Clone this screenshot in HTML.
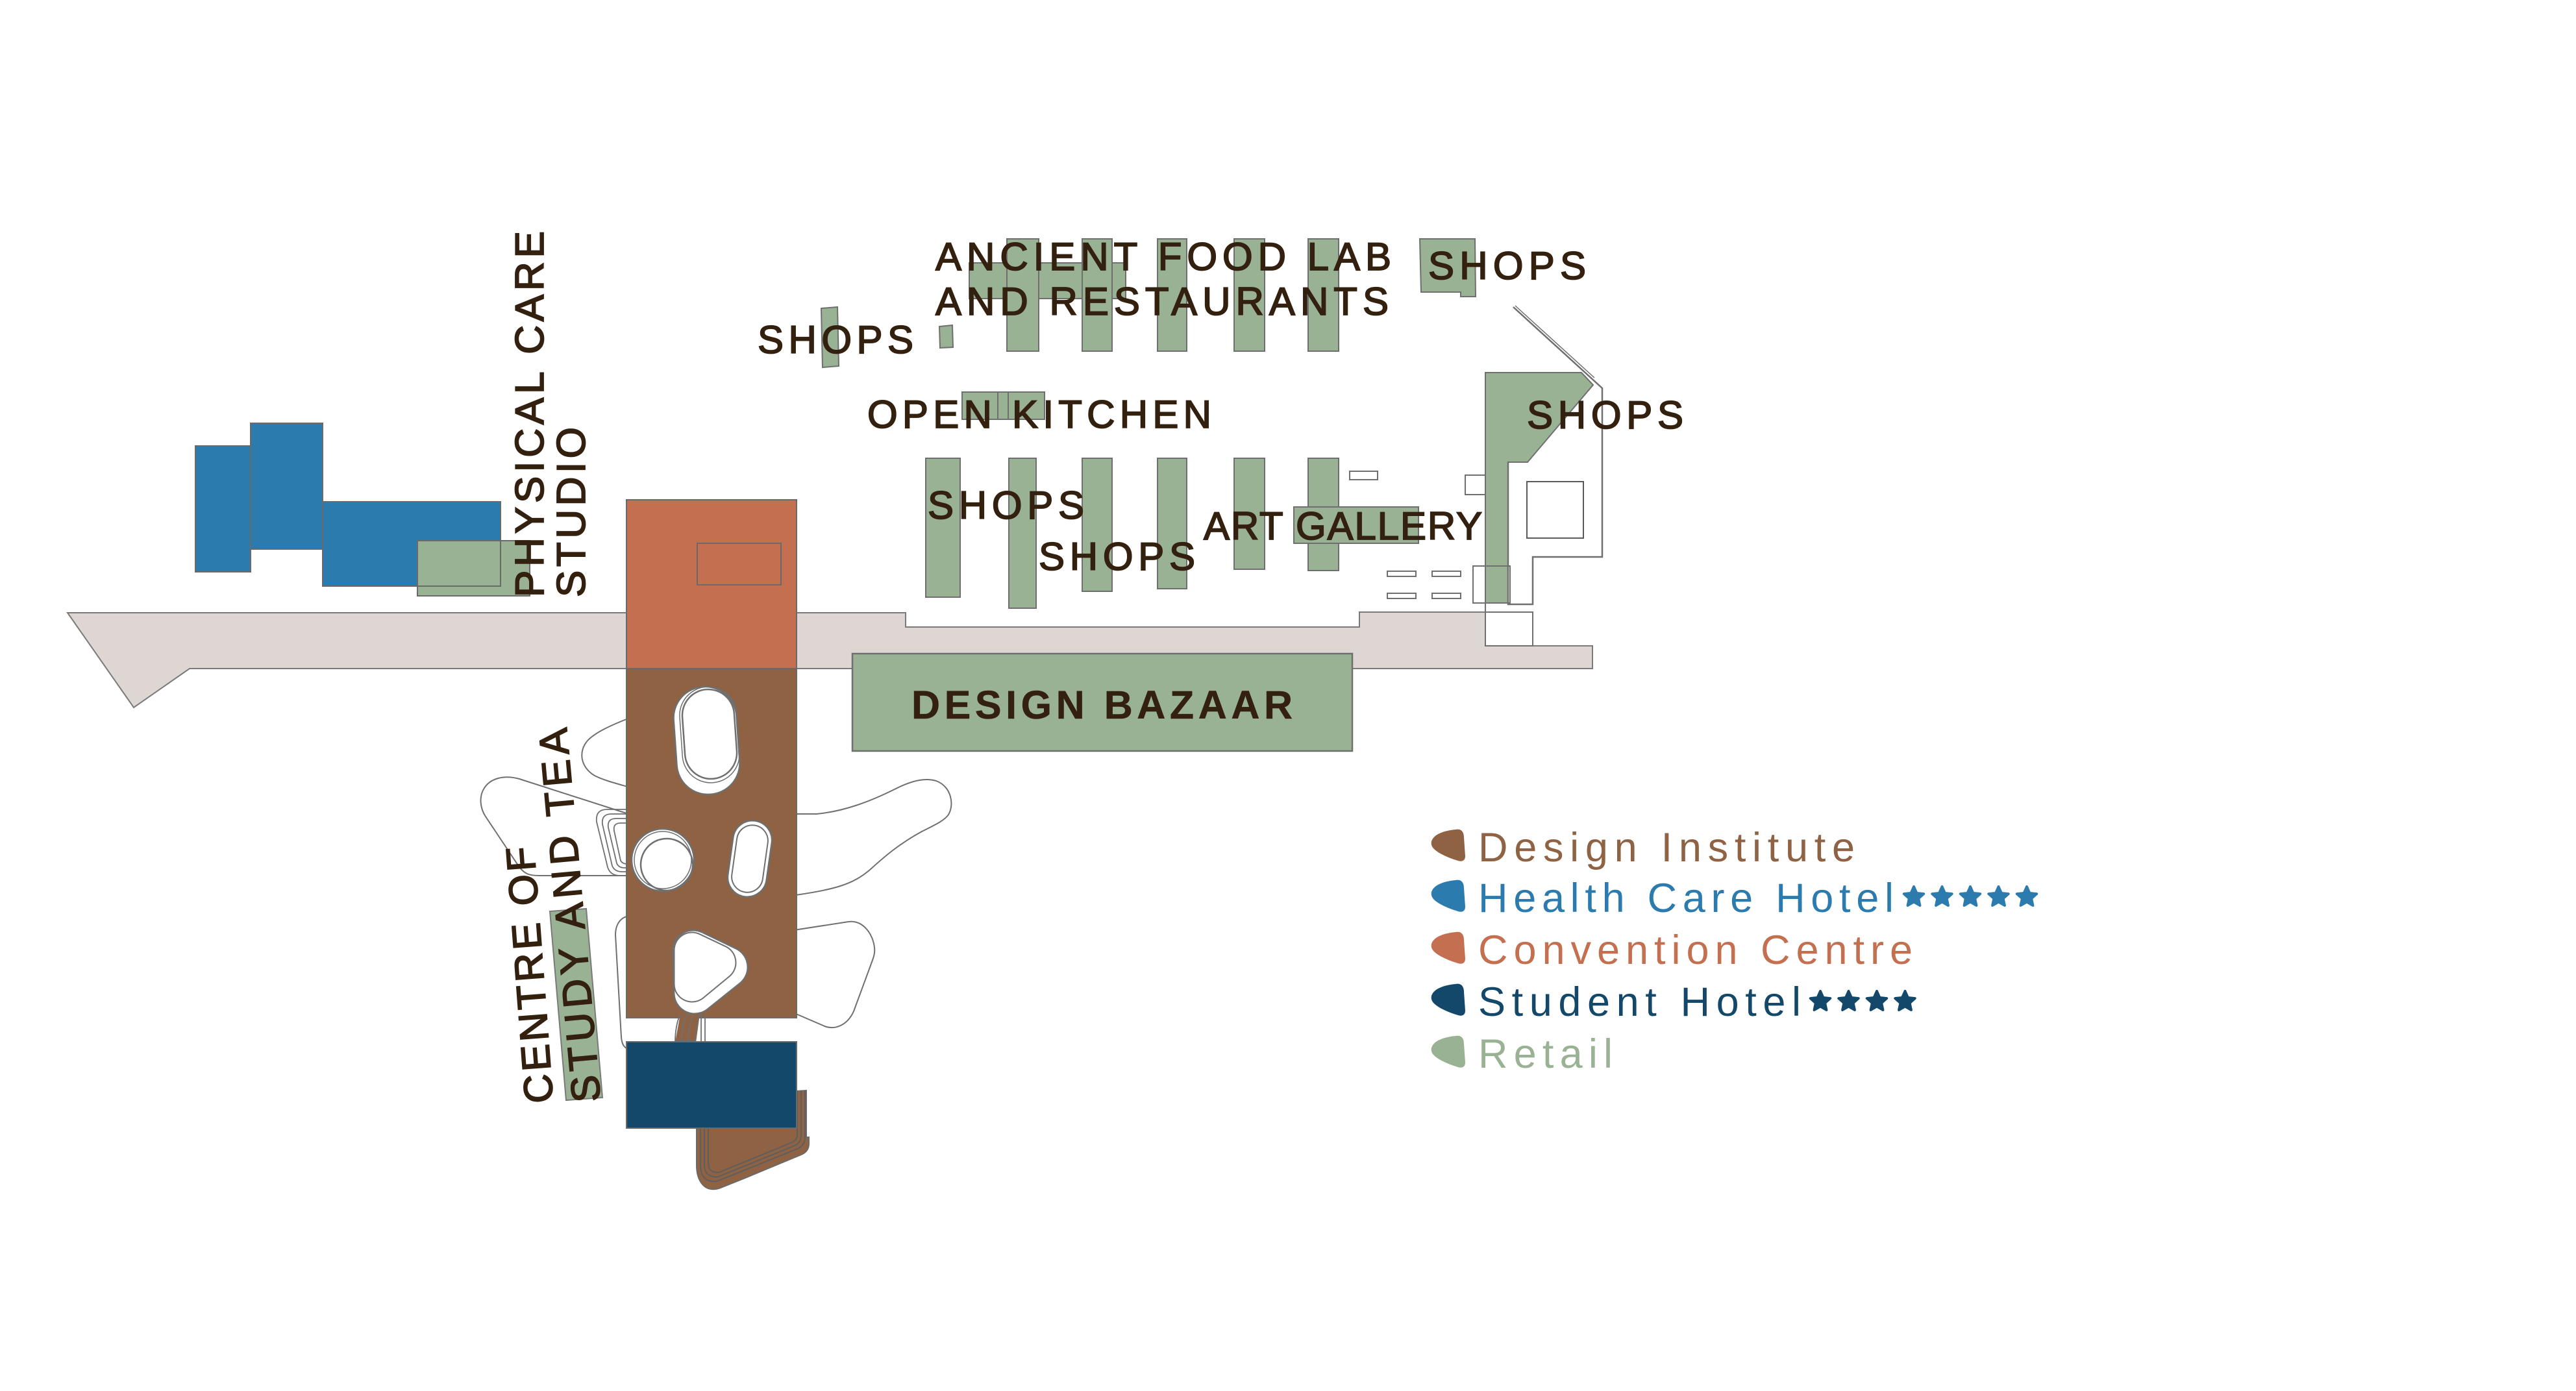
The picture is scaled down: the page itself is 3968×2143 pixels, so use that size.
<!DOCTYPE html>
<html>
<head>
<meta charset="utf-8">
<style>
html,body{margin:0;padding:0;background:#fff;}
svg{display:block;}
.lbl{font-family:"Liberation Sans",sans-serif;font-weight:normal;font-size:60px;fill:#33200f;stroke:#33200f;stroke-width:1.8px;}
.rot{font-family:"Liberation Sans",sans-serif;font-weight:normal;font-size:62px;fill:#33200f;stroke:#33200f;stroke-width:1.8px;}
.leg{font-family:"Liberation Sans",sans-serif;font-size:63px;}
</style>
</head>
<body>
<svg width="3968" height="2143" viewBox="0 0 3968 2143" xmlns="http://www.w3.org/2000/svg">
<rect x="0" y="0" width="3968" height="2143" fill="#ffffff"/>

<!-- Road -->
<path d="M104 944 L1395 944 L1395 966 L2094 966 L2094 943 L2288 943 L2288 995 L2453 995 L2453 1030 L292 1030 L206 1090 Z" fill="#ddd6d3" stroke="#7a7a7a" stroke-width="2"/>

<!-- curvy white shapes around design institute -->
<g fill="#ffffff" stroke="#6f6f6f" stroke-width="2">
  <path d="M980 1102 L965 1108 C940 1118 918 1128 906 1140 C890 1157 894 1182 916 1195 C932 1203 950 1207 980 1216 Z"/>
  <path d="M980 1258 L965 1253 L800 1200 C775 1193 755 1200 746 1214 C737 1228 740 1246 748 1258 L800 1336 C808 1346 815 1349 830 1349 L980 1349"/>
  <path d="M980 1410 L965 1412 C955 1415 948 1425 948 1440 L957 1598 C958 1610 961 1617 980 1620"/>
  <path d="M1210 1254 L1258 1254 C1300 1250 1340 1235 1380 1215 C1410 1200 1428 1199 1442 1203 C1466 1212 1470 1240 1461 1255 C1455 1264 1440 1271 1420 1281 C1385 1300 1362 1320 1340 1340 C1315 1361 1290 1371 1210 1381"/>
  <path d="M1210 1435 L1307 1420 C1330 1417 1345 1440 1347 1460 C1348 1468 1346 1474 1343 1482 L1315 1558 C1305 1580 1285 1588 1268 1580 L1210 1555"/>
</g>
<g fill="none" stroke="#6f6f6f" stroke-width="1.8">
  <path d="M980 1247 L935 1247 Q917 1247 919 1266 L936 1336 Q940 1349 955 1349 L980 1349"/>
  <path d="M980 1254 L942 1254 Q926 1254 928 1270 L943 1334 Q947 1343 958 1343 L980 1343"/>
  <path d="M980 1261 L949 1261 Q935 1261 937 1275 L950 1330 Q953 1337 962 1337 L980 1337"/>
  <path d="M980 1268 L956 1268 Q944 1268 946 1280 L956 1326 Q959 1331 966 1331 L980 1331"/>
</g>

<!-- Health care hotel (blue) -->
<g fill="#2c7bae" stroke="#6a6a6a" stroke-width="2">
  <rect x="301" y="687" width="85" height="194"/>
  <rect x="386" y="652" width="111" height="194"/>
  <rect x="497" y="773" width="274" height="130"/>
</g>
<rect x="643" y="833" width="173" height="85" fill="#9ab294" stroke="#6a6a6a" stroke-width="2"/>
<path d="M771 833 L771 903 L643 903" fill="none" stroke="#6a6a6a" stroke-width="2"/>

<!-- Convention centre -->
<rect x="965" y="770" width="262" height="260" fill="#c46f50" stroke="#6a6a6a" stroke-width="2"/>
<rect x="1074" y="837" width="129" height="64" fill="none" stroke="#6a6a6a" stroke-width="2"/>

<!-- Design institute -->
<rect x="965" y="1030" width="262" height="538" fill="#8e6242" stroke="#6a6a6a" stroke-width="2"/>

<!-- oval 1 -->
<rect x="1040" y="1058" width="97" height="166" rx="48" fill="#ffffff" stroke="#6f6f6f" stroke-width="2.5" transform="rotate(-4 1088 1141)"/>
<rect x="1049" y="1058" width="88" height="148" rx="44" fill="none" stroke="#6f6f6f" stroke-width="1.5" transform="rotate(-4 1093 1132)"/>
<rect x="1053" y="1062" width="80" height="138" rx="40" fill="none" stroke="#6f6f6f" stroke-width="2.5" transform="rotate(-4 1093 1131)"/>
<!-- circle -->
<circle cx="1021" cy="1325" r="48" fill="#ffffff" stroke="#6f6f6f" stroke-width="2.5"/>
<circle cx="1021" cy="1325" r="44" fill="none" stroke="#6f6f6f" stroke-width="1.5"/>
<circle cx="1027" cy="1332" r="40" fill="none" stroke="#6f6f6f" stroke-width="2.5"/>
<!-- small oval -->
<rect x="1125" y="1264" width="60" height="118" rx="30" fill="#ffffff" stroke="#6f6f6f" stroke-width="2.5" transform="rotate(8 1155 1323)"/>
<rect x="1131" y="1271" width="48" height="104" rx="24" fill="none" stroke="#6f6f6f" stroke-width="2" transform="rotate(8 1155 1323)"/>
<!-- rounded triangle -->
<polygon points="1068,1465 1120,1490 1070,1530" fill="#ffffff" stroke="#6f6f6f" stroke-width="66" stroke-linejoin="round"/>
<polygon points="1068,1465 1120,1490 1070,1530" fill="#ffffff" stroke="#ffffff" stroke-width="61" stroke-linejoin="round"/>
<polygon points="1066,1464 1106,1483 1066,1516" fill="#ffffff" stroke="#6f6f6f" stroke-width="57" stroke-linejoin="round"/>
<polygon points="1066,1464 1106,1483 1066,1516" fill="#ffffff" stroke="#ffffff" stroke-width="53" stroke-linejoin="round"/>

<!-- connector -->
<path d="M1048 1562 L1078 1562 L1072 1606 L1040 1606 Z" fill="#8e6242"/>
<g fill="none" stroke="#6f6f6f" stroke-width="1.8">
  <path d="M1048 1562 Q1040 1580 1040 1606"/>
  <path d="M1058 1562 Q1050 1582 1050 1606"/>
  <path d="M1068 1562 Q1060 1583 1060 1606"/>
  <path d="M1078 1562 Q1071 1584 1071 1606"/>
  <path d="M1080 1562 L1080 1606"/>
  <path d="M1086 1562 L1086 1606"/>
</g>

<!-- brown bottom piece -->
<path d="M1073 1690 L1242 1680 L1242 1752 L1246 1752 L1246 1762 Q1246 1774 1234 1779 L1140 1818 L1110 1830 Q1090 1837 1080 1822 Q1073 1812 1073 1795 Z" fill="#8e6242" stroke="#6a6a6a" stroke-width="2"/>
<g fill="none" stroke="#5e5e5e" stroke-width="2">
  <path d="M1079 1738 L1079 1795 Q1079 1822 1104 1820 L1228 1770 Q1240 1765 1240 1752 L1240 1680"/>
  <path d="M1085 1738 L1085 1793 Q1085 1815 1106 1813 L1224 1765 Q1234 1760 1234 1750 L1234 1680"/>
  <path d="M1091 1738 L1091 1791 Q1091 1808 1108 1806 L1220 1760 Q1228 1756 1228 1748 L1228 1680"/>
</g>

<!-- Student hotel -->
<rect x="965" y="1605" width="262" height="133" fill="#13486b" stroke="#6a6a6a" stroke-width="2"/>

<!-- Retail shop bars -->
<g fill="#9ab294" stroke="#6f6f6f" stroke-width="2">
  <rect x="1493" y="405" width="241" height="55"/>
  <rect x="1551" y="368" width="49" height="173"/>
  <rect x="1667" y="368" width="46" height="173"/>
  <rect x="1783" y="368" width="45" height="173"/>
  <rect x="1901" y="368" width="47" height="173"/>
  <rect x="2015" y="368" width="47" height="173"/>
  <polygon points="2187,368 2272,368 2273,457 2250,457 2250,450 2189,450"/>
  <polygon points="1265,475 1290,473 1292,564 1267,566"/>
  <polygon points="1447,503 1467,501 1468,535 1448,536"/>
  <rect x="1482" y="604" width="55" height="42"/>
  <rect x="1537" y="604" width="16" height="42"/>
  <rect x="1553" y="604" width="56" height="42"/>
  <rect x="1426" y="706" width="53" height="214"/>
  <rect x="1554" y="706" width="42" height="231"/>
  <rect x="1667" y="706" width="46" height="205"/>
  <rect x="1783" y="706" width="45" height="201"/>
  <rect x="1901" y="706" width="47" height="171"/>
  <rect x="2015" y="706" width="47" height="173"/>
  <rect x="1993" y="781" width="192" height="56"/>
</g>

<!-- small outlined rects -->
<g fill="#ffffff" stroke="#6f6f6f" stroke-width="2">
  <rect x="2079" y="726" width="43" height="13"/>
  <rect x="2137" y="880" width="44" height="8"/>
  <rect x="2206" y="880" width="44" height="8"/>
  <rect x="2137" y="914" width="44" height="8"/>
  <rect x="2206" y="914" width="44" height="8"/>
  <rect x="2257" y="732" width="31" height="30"/>
</g>

<!-- Right building -->
<path d="M2288 574 L2436 574 L2454 593 L2353 712 L2323 712 L2323 929 L2288 929 Z" fill="#9ab294" stroke="#6f6f6f" stroke-width="2"/>
<path d="M2331 473 L2468 598 L2468 858 L2361 858 L2361 931 L2323 931 L2323 712" fill="none" stroke="#6f6f6f" stroke-width="2.5"/>
<path d="M2334 471 L2456 582" fill="none" stroke="#6f6f6f" stroke-width="1.5"/>
<rect x="2352" y="742" width="87" height="87" fill="none" stroke="#5a5a5a" stroke-width="2"/>
<rect x="2269" y="872" width="57" height="57" fill="none" stroke="#6f6f6f" stroke-width="2"/>
<path d="M2288 929 L2288 995" fill="none" stroke="#6f6f6f" stroke-width="2"/>
<rect x="2288" y="943" width="73" height="52" fill="#ffffff" stroke="#6f6f6f" stroke-width="2"/>

<!-- Design bazaar -->
<rect x="1313" y="1007" width="770" height="150" fill="#9ab294" stroke="#6f6f6f" stroke-width="2.5"/>

<!-- Study green strip -->
<polygon points="847,1404 903,1400 928,1691 872,1695" fill="#9ab294" stroke="#7a7a7a" stroke-width="2"/>

<!-- Labels -->
<text class="lbl" x="1441" y="416" textLength="702" lengthAdjust="spacing">ANCIENT FOOD LAB</text>
<text class="lbl" x="1441" y="485" textLength="698" lengthAdjust="spacing">AND RESTAURANTS</text>
<text class="lbl" x="2200" y="430" textLength="243" lengthAdjust="spacing">SHOPS</text>
<text class="lbl" x="1167" y="544" textLength="240" lengthAdjust="spacing">SHOPS</text>
<text class="lbl" x="1336" y="659" textLength="530" lengthAdjust="spacing">OPEN KITCHEN</text>
<text class="lbl" x="1429" y="799" textLength="241" lengthAdjust="spacing">SHOPS</text>
<text class="lbl" x="1600" y="878" textLength="241" lengthAdjust="spacing">SHOPS</text>
<text class="lbl" x="1854" y="831" textLength="429" lengthAdjust="spacing">ART GALLERY</text>
<text class="lbl" x="2352" y="660" textLength="241" lengthAdjust="spacing">SHOPS</text>
<text class="lbl" x="1404" y="1107" textLength="587" lengthAdjust="spacing" style="font-size:61px;font-weight:bold;stroke-width:0.5px">DESIGN BAZAAR</text>

<text class="rot" x="0" y="0" transform="translate(837 920) rotate(-90)" textLength="564" lengthAdjust="spacing">PHYSICAL CARE</text>
<text class="rot" x="0" y="0" transform="translate(901 920) rotate(-90)" textLength="262" lengthAdjust="spacing">STUDIO</text>
<text class="rot" x="0" y="0" transform="translate(852 1698) rotate(-94.3)" textLength="396" lengthAdjust="spacing">CENTRE OF</text>
<text class="rot" x="0" y="0" transform="translate(925 1696) rotate(-95.2)" textLength="578" lengthAdjust="spacing">STUDY AND TEA</text>

<!-- Legend icons -->
<g>
  <path transform="translate(2204 1277)" d="M38 1 C47 -1 51 5 51 13 L53 42 C53 49 48 51 42 49 C28 45 12 38 5 31 C-2 24 0 16 8 10 C17 4 28 2 38 1 Z" fill="#8e6242"/>
  <path transform="translate(2204 1355)" d="M38 1 C47 -1 51 5 51 13 L53 42 C53 49 48 51 42 49 C28 45 12 38 5 31 C-2 24 0 16 8 10 C17 4 28 2 38 1 Z" fill="#2c7bae"/>
  <path transform="translate(2204 1435)" d="M38 1 C47 -1 51 5 51 13 L53 42 C53 49 48 51 42 49 C28 45 12 38 5 31 C-2 24 0 16 8 10 C17 4 28 2 38 1 Z" fill="#c46f50"/>
  <path transform="translate(2204 1515)" d="M38 1 C47 -1 51 5 51 13 L53 42 C53 49 48 51 42 49 C28 45 12 38 5 31 C-2 24 0 16 8 10 C17 4 28 2 38 1 Z" fill="#13486b"/>
  <path transform="translate(2204 1595)" d="M38 1 C47 -1 51 5 51 13 L53 42 C53 49 48 51 42 49 C28 45 12 38 5 31 C-2 24 0 16 8 10 C17 4 28 2 38 1 Z" fill="#9ab294"/>
</g>

<!-- Legend text -->
<text class="leg" x="2277" y="1327" fill="#8e6242" textLength="580" lengthAdjust="spacing">Design Institute</text>
<text class="leg" x="2277" y="1405" fill="#2c7bae" textLength="640" lengthAdjust="spacing">Health Care Hotel</text>
<text class="leg" x="2277" y="1485" fill="#c46f50" textLength="669" lengthAdjust="spacing">Convention Centre</text>
<text class="leg" x="2277" y="1565" fill="#13486b" textLength="497" lengthAdjust="spacing">Student Hotel</text>
<text class="leg" x="2277" y="1645" fill="#9ab294" textLength="207" lengthAdjust="spacing">Retail</text>

<!-- Stars -->
<g fill="#2c7bae" stroke="#2c7bae" stroke-width="4" stroke-linejoin="round">
  <polygon transform="translate(2948 1382)" points="0,-16 4.41,-6.07 15.22,-4.94 7.13,2.32 9.4,12.94 0,7.5 -9.4,12.94 -7.13,2.32 -15.22,-4.94 -4.41,-6.07"/>
  <polygon transform="translate(2991.5 1382)" points="0,-16 4.41,-6.07 15.22,-4.94 7.13,2.32 9.4,12.94 0,7.5 -9.4,12.94 -7.13,2.32 -15.22,-4.94 -4.41,-6.07"/>
  <polygon transform="translate(3035 1382)" points="0,-16 4.41,-6.07 15.22,-4.94 7.13,2.32 9.4,12.94 0,7.5 -9.4,12.94 -7.13,2.32 -15.22,-4.94 -4.41,-6.07"/>
  <polygon transform="translate(3078.5 1382)" points="0,-16 4.41,-6.07 15.22,-4.94 7.13,2.32 9.4,12.94 0,7.5 -9.4,12.94 -7.13,2.32 -15.22,-4.94 -4.41,-6.07"/>
  <polygon transform="translate(3122 1382)" points="0,-16 4.41,-6.07 15.22,-4.94 7.13,2.32 9.4,12.94 0,7.5 -9.4,12.94 -7.13,2.32 -15.22,-4.94 -4.41,-6.07"/>
</g>
<g fill="#13486b" stroke="#13486b" stroke-width="4" stroke-linejoin="round">
  <polygon transform="translate(2804 1543)" points="0,-16 4.41,-6.07 15.22,-4.94 7.13,2.32 9.4,12.94 0,7.5 -9.4,12.94 -7.13,2.32 -15.22,-4.94 -4.41,-6.07"/>
  <polygon transform="translate(2847.5 1543)" points="0,-16 4.41,-6.07 15.22,-4.94 7.13,2.32 9.4,12.94 0,7.5 -9.4,12.94 -7.13,2.32 -15.22,-4.94 -4.41,-6.07"/>
  <polygon transform="translate(2891 1543)" points="0,-16 4.41,-6.07 15.22,-4.94 7.13,2.32 9.4,12.94 0,7.5 -9.4,12.94 -7.13,2.32 -15.22,-4.94 -4.41,-6.07"/>
  <polygon transform="translate(2934.5 1543)" points="0,-16 4.41,-6.07 15.22,-4.94 7.13,2.32 9.4,12.94 0,7.5 -9.4,12.94 -7.13,2.32 -15.22,-4.94 -4.41,-6.07"/>
</g>
</svg>
</body>
</html>
